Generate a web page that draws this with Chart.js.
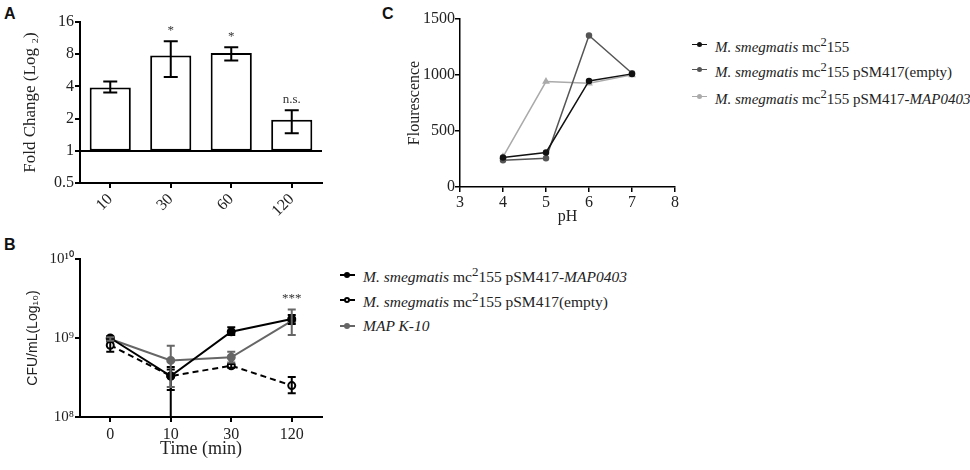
<!DOCTYPE html>
<html lang="en">
<head>
  <meta charset="UTF-8" />
  <title>MAP0403 expression and survival</title>
  <script src="https://cdn.jsdelivr.net/npm/chart.js"></script>
  <style>
    body {
      margin: 0;
      width: 970px;
      height: 470px;
      position: relative;
      overflow: hidden;
      background: #fff;
      font-family: 'Liberation Serif', 'Times New Roman', serif;
      color: #222;
    }

    canvas {
      position: absolute;
    }

    .panel {
      position: absolute;
      font-family: 'Liberation Sans', Arial, sans-serif;
      font-weight: bold;
      font-size: 16px;
      color: #111;
    }

    .legend-item {
      position: absolute;
      display: flex;
      align-items: center;
      white-space: nowrap;
      font-size: 15px;
      height: 20px;
    }

    .key {
      position: relative;
      width: 15px;
      height: 10px;
      margin-right: 8px;
    }

    .key .ln {
      position: absolute;
      left: 0;
      right: 0;
      top: 4px;
      border-top: 2px solid;
    }

    .key .pt {
      position: absolute;
      left: 4px;
      top: 2px;
      width: 6px;
      height: 6px;
      border-radius: 50%;
      box-sizing: border-box;
    }
  </style>
</head>
<body>

  <div class="panel" style="left:4px; top:5px;">A</div>
  <div class="panel" style="left:4px; top:236px;">B</div>
  <div class="panel" style="left:382px; top:5px;">C</div>

  <canvas id="chartA" width="330" height="230" style="left:0; top:0; width:330px; height:230px;"></canvas>
  <canvas id="chartB" width="330" height="235" style="left:0; top:235px; width:330px; height:235px;"></canvas>
  <canvas id="chartC" width="325" height="230" style="left:365px; top:0; width:325px; height:230px;"></canvas>

  <script>
    // Panel A - fold change
    const timesA = ['10', '30', '60', '120'];
    const foldA = [3.9, 7.8, 8.2, 1.95];
    const foldA_lo = [3.5, 4.9, 7.0, 1.46];
    const foldA_hi = [4.45, 10.6, 9.3, 2.4];
    const sigA = ['', '*', '*', 'n.s.'];
    const yTicksA = [0.5, 1, 2, 4, 8, 16];

    // Panel B - CFU/mL
    const timesB = ['0', '10', '30', '120'];
    const namesB = [
      '<i>M. smegmatis</i>&nbsp;mc<sup>2</sup>155 pSM417-<i>MAP0403</i>',
      '<i>M. smegmatis</i>&nbsp;mc<sup>2</sup>155 pSM417(empty)',
      '<i>MAP K-10</i>'
    ];
    const cfuMap0403 = [1.0e9, 3.3e8, 1.2e9, 1.74e9];
    const cfuMap0403_lo = [0.95e9, 1.0e8, 1.09e9, 1.5e9];
    const cfuMap0403_hi = [1.05e9, 4.0e8, 1.37e9, 1.95e9];
    const cfuEmpty = [8.1e8, 3.3e8, 4.46e8, 2.5e8];
    const cfuEmpty_lo = [6.7e8, 2.2e8, 4.2e8, 2.0e8];
    const cfuEmpty_hi = [9.0e8, 4.3e8, 4.7e8, 3.2e8];
    const cfuK10 = [0.97e9, 5.2e8, 5.7e8, 1.65e9];
    const cfuK10_lo = [0.92e9, 2.4e8, 4.9e8, 1.09e9];
    const cfuK10_hi = [1.02e9, 8.0e8, 6.7e8, 2.3e9];
    const sigB = ['', '', '', '***'];
    const yTicksB = [1e8, 1e9, 1e10];
    const yTickLabelsB = ['10⁸', '10⁹', '10¹⁰'];

    // Panel C - fluorescence vs pH
    const pH = [4, 5, 6, 7];
    const namesC = [
      '<i>M. smegmatis</i>&nbsp;mc<sup>2</sup>155',
      '<i>M. smegmatis</i>&nbsp;mc<sup>2</sup>155 pSM417(empty)',
      '<i>M. smegmatis</i>&nbsp;mc<sup>2</sup>155 pSM417-<i>MAP0403</i>'
    ];
    const fluorWT = [263, 308, 947, 1010];
    const fluorEmpty = [239, 257, 1353, 1016];
    const fluorMAP0403 = [269, 941, 926, 1001];

    const serif = 'Liberation Serif';
    const ink = '#222';

    // error bars drawn from each dataset's errLo / errHi
    const errorBars = {
      id: 'errorBars',
      afterDatasetsDraw(chart, args, opts) {
        const ctx = chart.ctx;
        const y = chart.scales.y;
        chart.data.datasets.forEach((ds, i) => {
          if (!ds.errLo) return;
          const meta = chart.getDatasetMeta(i);
          ctx.save();
          ctx.strokeStyle = ds.errColor || ds.borderColor;
          ctx.lineWidth = opts.width;
          meta.data.forEach((el, j) => {
            const x = el.x;
            const y1 = y.getPixelForValue(ds.errLo[j]);
            const y2 = y.getPixelForValue(ds.errHi[j]);
            ctx.beginPath();
            ctx.moveTo(x, y1); ctx.lineTo(x, y2);
            ctx.moveTo(x - opts.cap, y1); ctx.lineTo(x + opts.cap, y1);
            ctx.moveTo(x - opts.cap, y2); ctx.lineTo(x + opts.cap, y2);
            ctx.stroke();
          });
          ctx.restore();
        });
      }
    };

    // significance marks above the highest error bar
    const sigLabels = {
      id: 'sigLabels',
      afterDatasetsDraw(chart, args, opts) {
        const ctx = chart.ctx;
        const x = chart.scales.x, y = chart.scales.y;
        ctx.save();
        ctx.font = opts.font;
        ctx.fillStyle = '#333';
        ctx.textAlign = 'center';
        ctx.textBaseline = 'alphabetic';
        opts.labels.forEach((t, i) => {
          if (!t) return;
          ctx.fillText(t, x.getPixelForValue(i), y.getPixelForValue(opts.top[i]) - opts.gap);
        });
        ctx.restore();
      }
    };

    // GRAFICO A
    new Chart(document.getElementById('chartA'), {
      type: 'bar',
      data: {
        labels: timesA,
        datasets: [{
          data: foldA.map(v => [1, v]),
          backgroundColor: '#fff',
          borderColor: '#000',
          borderWidth: 2,
          borderSkipped: false,
          barPercentage: 0.68,
          categoryPercentage: 1,
          errLo: foldA_lo,
          errHi: foldA_hi,
          errColor: '#000'
        }]
      },
      options: {
        responsive: false,
        animation: false,
        layout: { padding: { top: 22, right: 8, left: 0, bottom: 0 } },
        plugins: {
          legend: { display: false },
          tooltip: { enabled: false },
          errorBars: { width: 2, cap: 7 },
          sigLabels: { labels: sigA, top: foldA_hi, gap: 7, font: '13px "Liberation Serif"' }
        },
        scales: {
          x: {
            grid: { offset: false, drawOnChartArea: false, tickLength: 5, color: '#000', lineWidth: 2 },
            border: { color: '#000', width: 2 },
            ticks: { minRotation: 45, maxRotation: 45, padding: 2, color: ink, font: { family: serif, size: 16 } },
            afterFit: s => { s.height = 47; }
          },
          y: {
            type: 'logarithmic',
            min: 0.5,
            max: 16,
            afterBuildTicks: s => { s.ticks = yTicksA.map(v => ({ value: v })); },
            ticks: { callback: v => String(v), padding: 1, color: ink, font: { family: serif, size: 16 } },
            grid: {
              color: c => (c.tick && c.tick.value === 1) ? '#000' : 'rgba(0,0,0,0)',
              tickColor: '#000',
              tickLength: 5,
              lineWidth: 2
            },
            border: { color: '#000', width: 2 },
            title: { display: true, text: 'Fold Change (Log ₂)', color: ink, font: { family: serif, size: 17 }, padding: { top: 20 } },
            afterFit: s => { s.width = 80; }
          }
        }
      },
      plugins: [errorBars, sigLabels]
    });

    // GRAFICO B
    new Chart(document.getElementById('chartB'), {
      type: 'line',
      data: {
        labels: timesB,
        datasets: [
          {
            label: 'MAP0403',
            data: cfuMap0403,
            borderColor: '#000',
            backgroundColor: '#000',
            borderWidth: 2,
            pointRadius: 3.5,
            errLo: cfuMap0403_lo,
            errHi: cfuMap0403_hi
          },
          {
            label: 'empty',
            data: cfuEmpty,
            borderColor: '#000',
            borderDash: [6, 4],
            borderWidth: 2,
            pointBackgroundColor: '#fff',
            pointBorderColor: '#000',
            pointBorderWidth: 2,
            pointRadius: 3.5,
            errLo: cfuEmpty_lo,
            errHi: cfuEmpty_hi
          },
          {
            label: 'K-10',
            data: cfuK10,
            borderColor: '#666',
            backgroundColor: '#666',
            borderWidth: 2,
            pointRadius: 3.5,
            errLo: cfuK10_lo,
            errHi: cfuK10_hi
          }
        ]
      },
      options: {
        responsive: false,
        animation: false,
        layout: { padding: { top: 24, right: 8, left: 0, bottom: 0 } },
        plugins: {
          legend: { display: false },
          tooltip: { enabled: false },
          errorBars: { width: 2, cap: 4 },
          sigLabels: { labels: sigB, top: cfuK10_hi, gap: 7, font: '13px "Liberation Serif"' }
        },
        scales: {
          x: {
            offset: true,
            grid: { offset: false, drawOnChartArea: false, tickLength: 5, color: '#000', lineWidth: 2 },
            border: { color: '#000', width: 2 },
            ticks: { padding: 3, color: ink, font: { family: serif, size: 16 } },
            title: { display: true, text: 'Time (min)', color: ink, font: { family: serif, size: 18 }, padding: { bottom: 10 } },
            afterFit: s => { s.height = 53; }
          },
          y: {
            type: 'logarithmic',
            min: 1e8,
            max: 1e10,
            afterBuildTicks: s => { s.ticks = yTicksB.map(v => ({ value: v })); },
            ticks: {
              callback: v => yTickLabelsB[yTicksB.indexOf(v)],
              padding: 1,
              color: ink,
              font: { family: serif, size: 15 }
            },
            grid: { drawOnChartArea: false, tickLength: 5, color: '#000', lineWidth: 2 },
            border: { color: '#000', width: 2 },
            title: { display: true, text: 'CFU/mL(Log₁₀)', color: ink, font: { family: 'Liberation Sans', size: 14 }, padding: { top: 25 } },
            afterFit: s => { s.width = 80; }
          }
        }
      },
      plugins: [errorBars, sigLabels]
    });

    // GRAFICO C
    new Chart(document.getElementById('chartC'), {
      type: 'line',
      data: {
        datasets: [
          {
            data: pH.map((x, i) => ({ x, y: fluorWT[i] })),
            borderColor: '#111',
            backgroundColor: '#111',
            borderWidth: 1.5,
            pointRadius: 2.5
          },
          {
            data: pH.map((x, i) => ({ x, y: fluorEmpty[i] })),
            borderColor: '#555',
            backgroundColor: '#555',
            borderWidth: 1.5,
            pointRadius: 2.5
          },
          {
            data: pH.map((x, i) => ({ x, y: fluorMAP0403[i] })),
            borderColor: '#aaa',
            backgroundColor: '#aaa',
            borderWidth: 1.5,
            pointStyle: 'triangle',
            pointRadius: 3
          }
        ]
      },
      options: {
        responsive: false,
        animation: false,
        layout: { padding: { top: 19, right: 15, left: 0, bottom: 0 } },
        plugins: { legend: { display: false }, tooltip: { enabled: false } },
        scales: {
          x: {
            type: 'linear',
            min: 3,
            max: 8,
            ticks: { stepSize: 1, padding: 1, callback: v => String(v), color: ink, font: { family: serif, size: 16 } },
            grid: { drawOnChartArea: false, tickLength: 5, color: '#000', lineWidth: 1.5 },
            border: { color: '#000', width: 1.5 },
            title: { display: true, text: 'pH', color: ink, font: { family: serif, size: 16 }, padding: { bottom: 4 } },
            afterFit: s => { s.height = 43; }
          },
          y: {
            min: 0,
            max: 1500,
            ticks: { stepSize: 500, padding: 0, callback: v => String(v), color: ink, font: { family: serif, size: 16 } },
            grid: { drawOnChartArea: false, tickLength: 5, color: '#000', lineWidth: 1.5 },
            border: { color: '#000', width: 1.5 },
            title: { display: true, text: 'Flourescence', color: ink, font: { family: serif, size: 16 }, padding: { top: 40 } },
            afterFit: s => { s.width = 95; }
          }
        }
      }
    });

    // Leyendas (HTML)
    function addLegend(names, keys, left, tops, size) {
      names.forEach((name, i) => {
        const item = document.createElement('div');
        item.className = 'legend-item';
        item.style.left = left + 'px';
        item.style.top = (tops[i] - 10) + 'px';
        item.style.fontSize = size + 'px';
        item.innerHTML = '<span class="key">' + keys[i] + '</span><span>' + name + '</span>';
        document.body.appendChild(item);
      });
    }

    addLegend(namesB, [
      '<span class="ln" style="border-color:#000"></span><span class="pt" style="background:#000"></span>',
      '<span class="ln" style="border-color:#000;border-top-style:dashed"></span><span class="pt" style="background:#fff;border:2px solid #000"></span>',
      '<span class="ln" style="border-color:#666"></span><span class="pt" style="background:#666"></span>'
    ], 340, [275, 300, 326], 15.5);

    addLegend(namesC, [
      '<span class="ln" style="border-color:#111;border-top-width:1.5px"></span><span class="pt" style="background:#111;width:5px;height:5px;left:5px;top:2px"></span>',
      '<span class="ln" style="border-color:#555;border-top-width:1.5px"></span><span class="pt" style="background:#555;width:5px;height:5px;left:5px;top:2px"></span>',
      '<span class="ln" style="border-color:#aaa;border-top-width:1.5px"></span><span class="pt" style="background:#aaa;width:5px;height:5px;left:5px;top:2px"></span>'
    ], 692, [45, 70, 97], 15);
  </script>
</body>
</html>
